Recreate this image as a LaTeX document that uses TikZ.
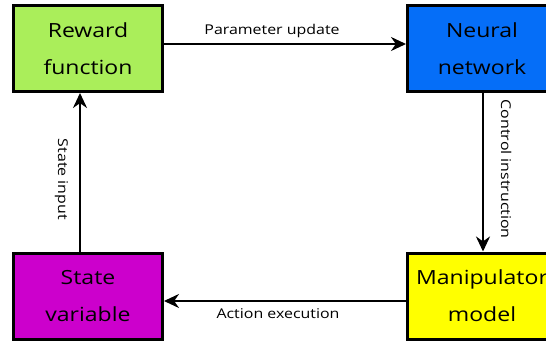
\documentclass[tikz,border=0pt]{standalone}
\usepackage{fontspec}
\setmainfont[FakeStretch=1.18]{Open Sans}
\usetikzlibrary{arrows.meta, positioning}

\definecolor{rewardgreen}{RGB}{170,238,90}
\definecolor{netblue}{RGB}{5,110,248}
\definecolor{statemag}{RGB}{204,0,204}
\definecolor{manipyellow}{RGB}{255,255,0}

\begin{document}
\begin{tikzpicture}[
    x=1pt, y=-1pt,
    >={Stealth[length=15pt, width=14pt]},
    block/.style={draw=black, line width=3pt, minimum width=149pt, minimum height=86pt,
        align=center, inner sep=0pt, font=\fontsize{19.5}{37}\selectfont},
    flow/.style={->, line width=2pt},
    lbl/.style={font=\fontsize{13.5}{15}\selectfont, inner sep=5pt}
]

    % === FRAME ===
    \useasboundingbox (0,0) rectangle (546,343);

    % === BLOCKS ===
    \node[block, fill=rewardgreen] (reward) at (88,48.5) {Reward\\function};
    \node[block, fill=netblue] (network) at (482,48.5) {Neural\\network};
    \node[block, fill=statemag] (state) at (88,296) {State\\variable};
    \node[block, fill=manipyellow] (manip) at (482,296) {Manipulator\\model};

    % === CONNECTORS ===
    \draw[flow] ([yshift=4.5pt]reward.east) -- node[lbl, above, xshift=-13pt] {Parameter update} ([yshift=4.5pt]network.west);
    \draw[flow] ([xshift=1pt]network.south) -- node[lbl, rotate=-90, anchor=south, inner sep=17pt, xshift=-3pt] {Control instruction} ([xshift=1pt]manip.north);
    \draw[flow] ([yshift=-5pt]manip.west) -- node[lbl, below, xshift=-7pt, inner sep=7pt] {Action execution} ([yshift=-5pt]state.east);
    \draw[flow] ([xshift=-8pt]state.north) -- node[lbl, rotate=-90, anchor=north, inner sep=11pt, xshift=7pt] {State input} ([xshift=-8pt]reward.south);

\end{tikzpicture}
\end{document}
